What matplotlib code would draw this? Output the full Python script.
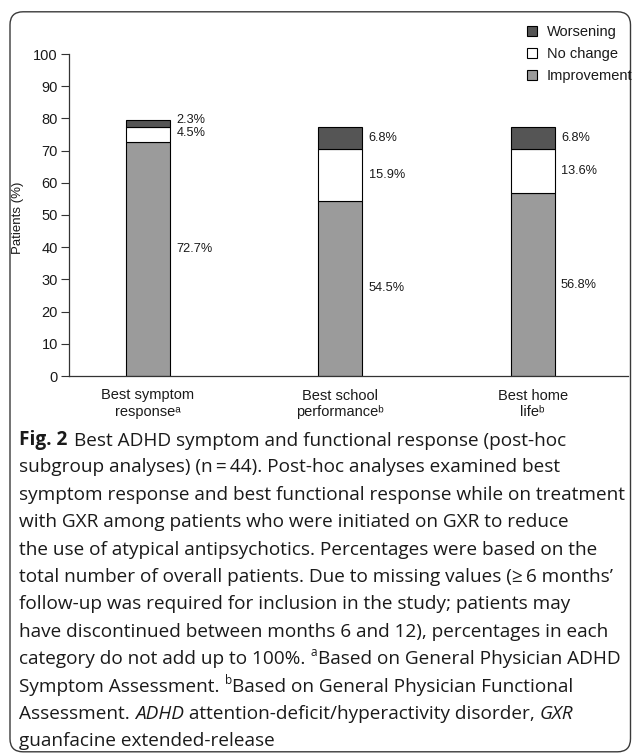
import matplotlib
matplotlib.use("Agg")
import matplotlib.pyplot as plt
from matplotlib.patches import FancyBboxPatch, Patch

# ---------------- data ----------------
categories = ["Best symptom\nresponse\u1d43",
              "Best school\nperformance\u1d47",
              "Best home\nlife\u1d47"]
improvement = [72.7, 54.5, 56.8]
no_change = [4.5, 15.9, 13.6]
worsening = [2.3, 6.8, 6.8]
series_names = ["Worsening", "No change", "Improvement"]
yticks = [0, 10, 20, 30, 40, 50, 60, 70, 80, 90, 100]

caption_lines = [
    [("Fig. 2", "b"), ("Best ADHD symptom and functional response (post-hoc", "gap")],
    [("subgroup analyses) (n\u2009=\u200944). Post-hoc analyses examined best", "n")],
    [("symptom response and best functional response while on treatment", "n")],
    [("with GXR among patients who were initiated on GXR to reduce", "n")],
    [("the use of atypical antipsychotics. Percentages were based on the", "n")],
    [("total number of overall patients. Due to missing values (\u2265\u20096 months\u2019", "n")],
    [("follow-up was required for inclusion in the study; patients may", "n")],
    [("have discontinued between months 6 and 12), percentages in each", "n")],
    [("category do not add up to 100%. ", "n"), ("a", "sup"), ("Based on General Physician ADHD", "n")],
    [("Symptom Assessment. ", "n"), ("b", "sup"), ("Based on General Physician Functional", "n")],
    [("Assessment. ", "n"), ("ADHD", "i"), (" attention-deficit/hyperactivity disorder, ", "n"), ("GXR", "i")],
    [("guanfacine extended-release", "n")],
]

# ---------------- style ----------------
plt.rcParams["font.family"] = ["Liberation Sans", "DejaVu Sans"]

W, H = 632, 753
fig = plt.figure(figsize=(W / 100, H / 100), dpi=100)

c_imp = "#9b9b9b"
c_no = "#ffffff"
c_wor = "#555555"
axis_col = "#333333"
txt_col = "#1a1a1a"

# border
border = FancyBboxPatch((0.10, 0.012), 6.205, 7.40,
                        boxstyle="round,pad=0,rounding_size=0.13",
                        transform=fig.dpi_scale_trans, facecolor="none",
                        edgecolor="#3a3a3a", linewidth=1.0)
fig.patches.append(border)

ax = fig.add_axes([69 / W, 377 / H, (628 - 69) / W, 322 / H])
x = list(range(len(categories)))
width = 0.229
bot2 = [a + b for a, b in zip(improvement, no_change)]
ax.bar(x, improvement, width, color=c_imp, edgecolor="black", linewidth=0.8)
ax.bar(x, no_change, width, bottom=improvement, color=c_no, edgecolor="black", linewidth=0.8)
ax.bar(x, worsening, width, bottom=bot2, color=c_wor, edgecolor="black", linewidth=0.8)

ax.set_xlim(-0.411, 2.496)
ax.set_ylim(0, 100)
ax.set_yticks(yticks)
ax.set_xticks(x)
ax.set_xticklabels(categories, fontsize=10.5, color=txt_col, linespacing=1.2)
ax.tick_params(axis="x", length=0, pad=9)
ax.tick_params(axis="y", direction="out", length=6, width=0.8, color=axis_col,
               labelsize=10.5, labelcolor=txt_col, pad=2)
for s in ["top", "right"]:
    ax.spines[s].set_visible(False)
for s in ["left", "bottom"]:
    ax.spines[s].set_color(axis_col)
    ax.spines[s].set_linewidth(0.9)

# value labels
lab_dx = 0.033
for i in x:
    segs = [(improvement[i], 0), (no_change[i], improvement[i]), (worsening[i], bot2[i])]
    ys = [b + v / 2 for v, b in segs]
    if i == 0:
        ys[0] += 3.0
        ys[1] += 0.4
        ys[2] += 1.3
    for (v, b), yy in zip(segs, ys):
        ax.text(i + width / 2 + lab_dx, yy, f"{v}%", fontsize=9.2, color=txt_col,
                ha="left", va="center")

fig.text(18 / W, 1 - 218 / H, "Patients (%)", rotation=90, fontsize=9.5,
         color=txt_col, ha="center", va="center")

# legend
handles = [Patch(facecolor=c_wor, edgecolor="black", linewidth=0.8),
           Patch(facecolor=c_no, edgecolor="black", linewidth=0.8),
           Patch(facecolor=c_imp, edgecolor="black", linewidth=0.8)]
fig.legend(handles, series_names, loc="upper left",
           bbox_to_anchor=(527 / W, 1 - 25 / H), frameon=False,
           borderpad=0, borderaxespad=0, handlelength=0.7, handleheight=0.7,
           handletextpad=0.65, labelspacing=0.55, fontsize=10.5, labelcolor=txt_col)

# caption
cap_font = ["Open Sans", "DejaVu Sans"]
cap_size = 13.7
x0 = 19 / W
base0 = 445
dy = 27.4
for li, segs in enumerate(caption_lines):
    yb = 1 - (base0 + li * dy) / H
    first = None
    prev = None
    for text, style in segs:
        kw = dict(fontsize=cap_size, family=cap_font, color=txt_col)
        if style == "b":
            kw["weight"] = "bold"
        if style == "i":
            kw["style"] = "italic"
        if first is None:
            t = fig.text(x0, yb, text, ha="left", va="baseline", **kw)
            first = t
        else:
            offs = (0, 0)
            if style == "sup":
                kw["fontsize"] = cap_size * 0.62
                offs = (0.5, 6.5)
            elif style == "gap":
                offs = (5, 0)
            t = plt.annotate(text, xy=(1, 0), xycoords=(prev, first),
                             xytext=offs, textcoords="offset points",
                             ha="left", va="bottom", annotation_clip=False, **kw)
        prev = t

fig.savefig("out.png", dpi=100)
